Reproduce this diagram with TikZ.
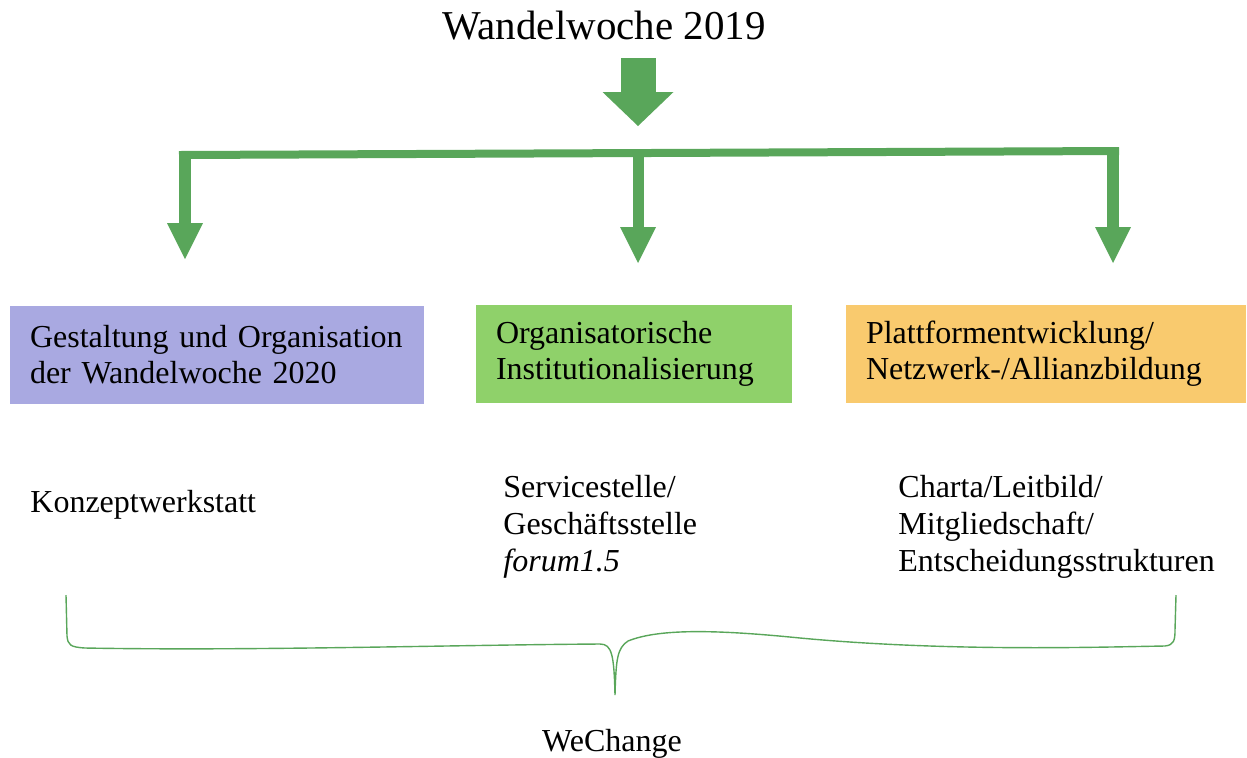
\documentclass[tikz,border=0pt]{standalone}
\usepackage{fontspec}
\setmainfont{Liberation Serif}
\usepackage{tikz}
\usetikzlibrary{arrows.meta, positioning}

\definecolor{arrowgreen}{HTML}{59A65A}
\definecolor{boxpurple}{HTML}{A9A9E1}
\definecolor{boxgreen}{HTML}{8FD16A}
\definecolor{boxorange}{HTML}{F9CA6E}

\begin{document}
\begin{tikzpicture}[x=0.5pt,y=-0.5pt,
                    fatarrow/.style={draw=arrowgreen, line width=17.5pt,
                      -{Triangle[width=35.5pt,length=17pt,line width=0pt]}},
                    armarrow/.style={draw=arrowgreen, line width=6pt,
                      -{Triangle[width=18pt,length=18pt,line width=0pt]}},
                    bar/.style={draw=arrowgreen, line width=4pt},
                    bracket/.style={draw=arrowgreen, line width=0.7pt}]

  \tikzstyle{every node} = [font=\fontsize{16pt}{18pt}\selectfont]
  \tikzstyle{topic} = [minimum height=49pt, inner xsep=10pt, inner ysep=0pt,
                       align=left, anchor=center]
  \tikzstyle{item}  = [inner sep=0pt, align=left, anchor=north west,
                       font=\fontsize{16pt}{18.5pt}\selectfont]

  \useasboundingbox (0,0) rectangle (1247,757);

  % title and big arrow
  \node (title) [anchor=base, font=\fontsize{20.5pt}{24pt}\selectfont] at (604,39) {Wandelwoche 2019};
  \coordinate (fatTop) at (638,58);
  \coordinate (fatTip) at (638,126);
  \draw[fatarrow] (fatTop) -- (fatTip);

  % distribution bar
  \coordinate (barL) at (179,155);
  \coordinate (barR) at (1119,151);
  \coordinate (armL) at (185,151);
  \coordinate (armM) at (638,153);
  \coordinate (armR) at (1113,147);
  \coordinate (tipL) at (185,259);
  \coordinate (tipM) at (638,263);
  \coordinate (tipR) at (1113,263);
  \draw[bar] (barL) -- (barR);
  \draw[armarrow] (armL) -- (tipL);
  \draw[armarrow, line width=5.5pt] (armM) -- (tipM);
  \draw[armarrow] (armR) -- (tipR);

  % the three fields
  \node[topic, fill=boxpurple, minimum width=207pt, text width=187pt] (gestaltung) at (217,355)
       {Gestaltung und Organisation\\der Wandelwoche 2020};
  \node[topic, fill=boxgreen, minimum width=158pt, text width=138pt] (institution) at (634,354)
       {Organisatorische\\Institutionalisierung};
  \node[topic, fill=boxorange, minimum width=200pt, text width=180pt] (plattform) at (1046,354)
       {Plattformentwicklung/\\Netzwerk-/Allianzbildung};

  % what belongs to them
  \node[anchor=base west, inner sep=0pt] (konzept) at (30,512) {Konzeptwerkstatt};
  \node[item] (service) at (503,475) {Servicestelle/\\Geschäftsstelle\\\textit{forum1.5}};
  \node[item] (charta) at (898,475) {Charta/Leitbild/\\Mitgliedschaft/\\Entscheidungsstrukturen};

  % brace
  \coordinate (braceL) at (66,595);
  \coordinate (braceR) at (1176,595);
  \coordinate (braceTip) at (615,695);
  \draw[bracket] (braceL) -- (67,636) .. controls (68,645) and (70,647) .. (85,648)
        .. controls (250,651) and (450,645) .. (600,644)
        .. controls (612,644) and (614,655) .. (braceTip)
        .. controls (616,660) and (617,648) .. (628,641)
        .. controls (660,628) and (720,630) .. (800,638)
        .. controls (950,652) and (1100,647) .. (1165,646)
        .. controls (1174,645) and (1175,640) .. (1175,630) -- (braceR);
  \node[anchor=base] (wechange) at (612,751) {WeChange};

\end{tikzpicture}
\end{document}
